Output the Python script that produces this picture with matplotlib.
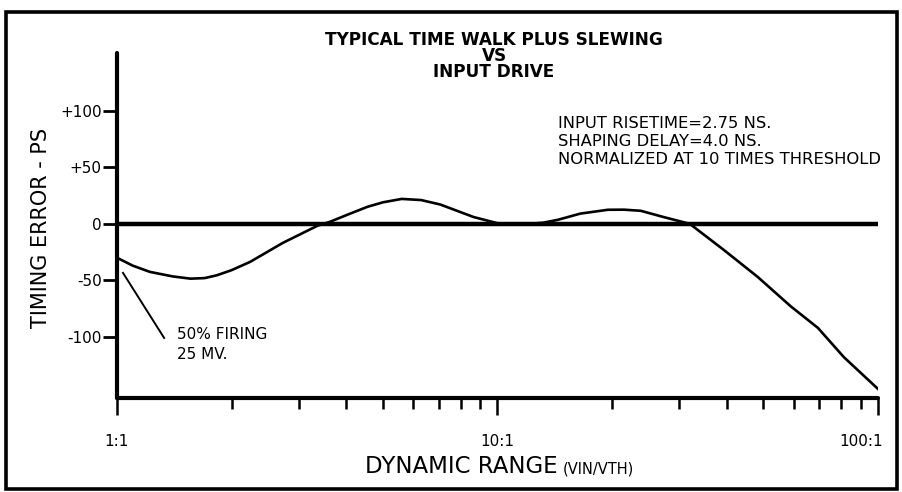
import matplotlib
matplotlib.use("Agg")
import matplotlib.pyplot as plt
from matplotlib.patches import Rectangle
from matplotlib.transforms import ScaledTranslation
from matplotlib.ticker import FixedLocator, NullFormatter

plt.rcParams['font.family'] = ['DejaVu Sans']

# ---- data ----
drive = [1.0, 1.1, 1.22, 1.4, 1.56, 1.7, 1.83, 2.0, 2.24, 2.73, 3.36, 3.63, 4.1, 4.55, 5.0, 5.6,
         6.3, 7.08, 8.65, 10.0, 11.0, 12.2, 13.2, 14.4, 16.5, 19.5, 21.5, 23.8, 27.3, 32.0, 39.3,
         48.3, 59.0, 69.5, 81.4, 100.0]
timing_error = [-30, -37, -42.5, -46.5, -48.5, -48, -45.5, -41, -33.6, -16.8, -1.8, 1.8, 9, 15, 19, 22,
                21, 17, 6, 0.5, 0, 0, 1, 3.5, 9, 12.4, 12.5, 11.5, 6, 0, -23,
                -47, -73, -92, -118, -146]
reference_x = [1.0, 100.0]
reference_y = [0, 0]
y_ticks = [100, 50, 0, -50, -100]
y_tick_labels = ['+100', '+50', '0', '-50', '-100']
x_major = [1, 10, 100]
x_major_labels = ['1:1', '10:1', '100:1']
x_minor = [2, 3, 4, 5, 6, 7, 8, 9, 20, 30, 40, 50, 60, 70, 80, 90]
title_lines = ['TYPICAL TIME WALK PLUS SLEWING', 'VS', 'INPUT DRIVE']
note_lines = ['INPUT RISETIME=2.75 NS.', 'SHAPING DELAY=4.0 NS.',
              'NORMALIZED AT 10 TIMES THRESHOLD']
firing_lines = ['50% FIRING', '25 MV.']

W, H = 903, 492
fig = plt.figure(figsize=(W / 100, H / 100), dpi=100)
fig.patch.set_facecolor('white')

def fx(px):
    return px / W

def fy(py):
    return 1 - py / H

ax = fig.add_axes([fx(117), fy(398), fx(878) - fx(117), fy(53) - fy(398)])
ax.set_xscale('log')
ax.set_xlim(1, 100)
ax.set_ylim(-154, 151)

ax.plot(reference_x, reference_y, color='black', lw=3.2, solid_capstyle='round', zorder=3)
ax.plot(drive, timing_error, color='black', lw=1.9, solid_joinstyle='round', zorder=4)

for s in ['top', 'right']:
    ax.spines[s].set_visible(False)
for s in ['left', 'bottom']:
    ax.spines[s].set_linewidth(3.0)
    ax.spines[s].set_capstyle('round')

ax.set_yticks(y_ticks)
ax.set_yticklabels(y_tick_labels)
ax.tick_params(axis='y', direction='out', length=10, width=2.0, pad=1,
               labelsize=11, colors='black')

ax.xaxis.set_major_locator(FixedLocator(x_major))
ax.xaxis.set_minor_locator(FixedLocator(x_minor))
ax.set_xticklabels(x_major_labels)
ax.xaxis.set_minor_formatter(NullFormatter())
ax.tick_params(axis='x', which='major', direction='out', length=12, width=1.8,
               pad=14, labelsize=11, colors='black')
ax.tick_params(axis='x', which='minor', direction='out', length=8, width=1.8,
               colors='black')
labels = ax.get_xticklabels()
labels[-1].set_transform(labels[-1].get_transform() +
                         ScaledTranslation(-0.17, 0, fig.dpi_scale_trans))

# leader line for firing note
ax.plot([1.037, 1.33], [-43.4, -100.9], color='black', lw=1.4, zorder=4)
ax.text(1.44, -107, '\n'.join(firing_lines), fontsize=11, va='center', ha='left',
        linespacing=1.4)

ax.text(14.4, 72.5, '\n'.join(note_lines), fontsize=11.8, va='center', ha='left',
        linespacing=1.25)

# title
fig.text(fx(494), fy(56), '\n'.join(title_lines), fontsize=12.2, fontweight='bold',
         ha='center', va='center', linespacing=0.87)

# axis labels
fig.text(fx(41), fy(228), 'TIMING ERROR - PS', rotation=90, fontsize=15,
         ha='center', va='center')
fig.text(fx(558), fy(473), 'DYNAMIC RANGE', fontsize=16.5, ha='right', va='baseline')
fig.text(fx(563), fy(473), '(VIN/VTH)', fontsize=10.5, ha='left', va='baseline')

# outer frame
fig.patches.append(Rectangle((fx(6), fy(489)), fx(897) - fx(6), fy(12) - fy(489),
                             transform=fig.transFigure, fill=False,
                             edgecolor='black', lw=2.6))

fig.savefig('out.png', dpi=100, facecolor='white')
